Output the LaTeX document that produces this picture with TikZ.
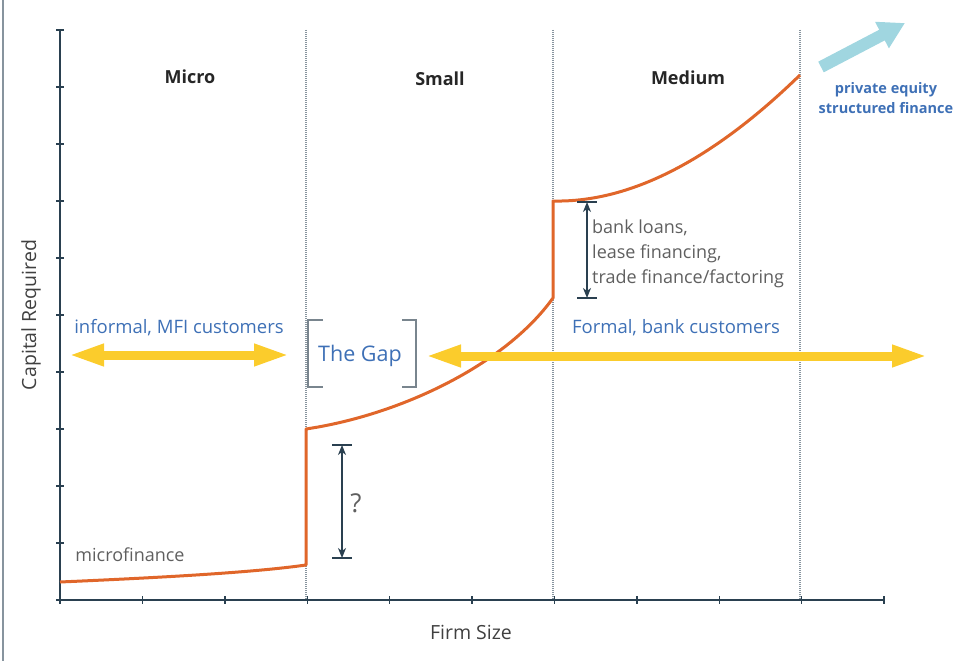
\documentclass[tikz,border=0pt]{standalone}
\usepackage{fontspec}
\setmainfont{Open Sans}
\usetikzlibrary{arrows.meta}

\definecolor{axiscol}{RGB}{42,64,80}
\definecolor{curvecol}{RGB}{224,102,42}
\definecolor{bluecol}{RGB}{62,112,182}
\definecolor{yellowcol}{RGB}{251,204,44}
\definecolor{skycol}{RGB}{160,214,224}
\definecolor{graycol}{RGB}{95,95,95}
\definecolor{dotcol}{RGB}{135,148,158}

\tikzset{
  axisline/.style={axiscol, line width=2.2pt},
  tickline/.style={axiscol, line width=1.4pt},
  divider/.style={dotcol, dash pattern=on 1pt off 1pt, line width=1.4pt},
  costcurve/.style={curvecol, line width=3pt, line join=round},
  bigarrow/.style={yellowcol, line width=9pt,
    {Triangle[length=36pt,width=20pt]}-{Triangle[length=36pt,width=20pt]}},
  skyarrow/.style={skycol, line width=12pt, -{Triangle[length=26pt,width=28pt]}},
  dimline/.style={axiscol, line width=1.4pt,
    {Stealth[length=10pt,width=8pt,inset=3pt]}-{Stealth[length=10pt,width=8pt,inset=3pt]}},
  dimcap/.style={axiscol, line width=1.4pt},
  bracket/.style={dotcol!90!black, line width=2pt},
  sizelabel/.style={text=black!85, font=\bfseries\fontsize{18}{21}\selectfont},
  bluelabel/.style={text=bluecol, font=\fontsize{18.5}{22}\selectfont},
  graylabel/.style={text=graycol, font=\fontsize{18}{25}\selectfont},
  axislabel/.style={text=black!75, font=\fontsize{19.5}{22}\selectfont},
}

\begin{document}
\begin{tikzpicture}[x=1pt,y=-1pt]
\useasboundingbox (0,0) rectangle (962,661);
\draw[dotcol, line width=1.5pt] (3,0) -- (3,661);

% axes
\coordinate (ytop) at (60,30);
\coordinate (origin) at (60,600);
\coordinate (xend) at (884,600);
\draw[axisline] (ytop) -- (origin) -- (xend);
\foreach \i in {0,...,10}
  \draw[tickline] (56,{30+57*\i}) -- (64,{30+57*\i});
\foreach \i in {0,...,10}
  \draw[tickline] ({60+82.4*\i},596) -- ({60+82.4*\i},604);

% size classes
\foreach \x in {306,553,800}
  \draw[divider] (\x,30) -- (\x,600);
\node[sizelabel] (micro) at (190,77) {Micro};
\node[sizelabel] (small) at (440,79) {Small};
\node[sizelabel] (medium) at (688,78) {Medium};

\node[axislabel, rotate=90] (capital) at (31,315) {Capital Required};
\node[axislabel] (firm) at (471,632) {Firm Size};

% capital curve
\coordinate (m0) at (60,582);
\coordinate (m1) at (306,565);
\coordinate (s0) at (306,429);
\coordinate (s1) at (553,298);
\coordinate (d0) at (553,201);
\coordinate (d1) at (800,75);
\draw[costcurve] (m0) .. controls (150,578) and (250,573) .. (m1) -- (s0)
  .. controls (400,415) and (505,365) .. (s1) -- (d0)
  .. controls (640,203) and (725,148) .. (d1);

% customers
\node[bluelabel] (informal) at (179,328) {informal, MFI customers};
\coordinate (infL) at (68,355);
\coordinate (infR) at (290,355);
\draw[bigarrow] (infL) -- (infR);

\node[bluelabel] (formal) at (676,328) {Formal, bank customers};
\coordinate (forL) at (425,356);
\coordinate (forR) at (928,356);
\draw[bigarrow] (forL) -- (forR);

% the gap
\node[text=bluecol, font=\fontsize{21.5}{24}\selectfont] (gap) at (360,356) {The Gap};
\draw[bracket] (323,320) -| (308,387) -- (323,387);
\draw[bracket] (402,320) -| (416,387) -- (402,387);

% question jump
\coordinate (qtop) at (342,445);
\coordinate (qbot) at (342,558);
\draw[dimline] (qtop) -- (qbot);
\draw[dimcap] ([xshift=-10pt]qtop) -- ([xshift=10pt]qtop);
\draw[dimcap] ([xshift=-10pt]qbot) -- ([xshift=10pt]qbot);
\node[text=graycol, font=\fontsize{26}{30}\selectfont] (quest) at (356,503) {?};

% bank jump
\coordinate (btop) at (587,202);
\coordinate (bbot) at (587,298);
\draw[dimline] (btop) -- (bbot);
\draw[dimcap] ([xshift=-10pt]btop) -- ([xshift=10pt]btop);
\draw[dimcap] ([xshift=-10pt]bbot) -- ([xshift=10pt]bbot);
\node[graylabel, anchor=north west, align=left, inner sep=0pt] (bank) at (592,220)
  {bank loans,\\lease financing,\\trade finance/factoring};

\node[graylabel] (microfin) at (130,555) {microfinance};

% beyond medium
\coordinate (skyA) at (821,67);
\coordinate (skyB) at (905,23);
\draw[skyarrow] (skyA) -- (skyB);
\node[text=bluecol, font=\bfseries\fontsize{14.5}{20}\selectfont, align=center] (equity) at (886,98)
  {private equity\\structured finance};
\end{tikzpicture}
\end{document}
